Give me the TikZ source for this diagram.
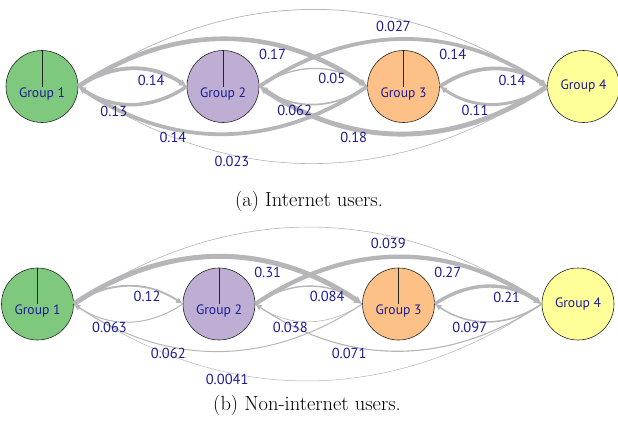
\documentclass[tikz,border=0pt]{standalone}
\usepackage{fontspec}
\newfontfamily\grpfont{PT Sans}
\usetikzlibrary{arrows.meta}

\definecolor{accgreen}{HTML}{7FC97F}
\definecolor{accpurple}{HTML}{BEAED4}
\definecolor{accorange}{HTML}{FDC086}
\definecolor{accyellow}{HTML}{FFFF99}
\definecolor{flowgray}{RGB}{182,182,184}
\definecolor{ratenavy}{RGB}{28,28,150}

\tikzset{
	group/.style={shape=circle, draw=black!85, line width=0.6pt, minimum size=72pt, inner sep=0pt},
	grptext/.style={text=ratenavy, inner sep=1pt, font=\grpfont\fontsize{13.6}{15}\selectfont},
	pieline/.style={draw=black!85, line width=0.8pt},
	flow/.style={draw=flowgray, line width=#1, bend left=34, -{Latex[length=6pt 0.4, width=5pt 0.7]}},
	rate/.style={pos=.67, below, inner sep=2pt, text=ratenavy, font=\grpfont\fontsize{14.5}{16}\selectfont},
	caption/.style={font=\fontsize{20.5}{24}\selectfont}
}

\begin{document}
\begin{tikzpicture}[x=1pt, y=-1pt]
				\useasboundingbox (0,0) rectangle (618,423);
				% (a) internet users
				\node[group, fill=accgreen] (A1) at (42,86.5) {};
				\node[group, fill=accpurple] (A2) at (223,86.5) {};
				\node[group, fill=accorange] (A3) at (403.5,86.5) {};
				\node[group, fill=accyellow, grptext] (A4) at (583.5,86.5) {Group 4};
				
				\path (A1.east) edge[flow=0.73pt] node[rate] {0.027} (A4.west);
				\path (A4.west) edge[flow=0.62pt] node[rate] {0.023} (A1.east);
				\path (A1.east) edge[flow=4.6pt] node[rate] {0.17} (A3.west);
				\path (A3.west) edge[flow=3.8pt] node[rate] {0.14} (A1.east);
				\path (A2.east) edge[flow=3.8pt] node[rate] {0.14} (A4.west);
				\path (A4.west) edge[flow=4.9pt] node[rate] {0.18} (A2.east);
				\path (A1.east) edge[flow=3.8pt] node[rate] {0.14} (A2.west);
				\path (A2.west) edge[flow=3.5pt] node[rate] {0.13} (A1.east);
				\path (A2.east) edge[flow=1.35pt] node[rate] {0.05} (A3.west);
				\path (A3.west) edge[flow=1.7pt] node[rate] {0.062} (A2.east);
				\path (A3.east) edge[flow=3.8pt] node[rate] {0.14} (A4.west);
				\path (A4.west) edge[flow=3.0pt] node[rate] {0.11} (A3.east);
				
				\foreach \g/\name in {A1/Group 1, A2/Group 2, A3/Group 3}{
					\draw[pieline] (\g.center) -- (\g.north);
					\node[grptext, below] (\g t) at (\g.center) {\name};
				}
				\node[caption] (capA) at (309,201) {(a) Internet users.};
				
				% (b) non-internet users
				\node[group, fill=accgreen] (B1) at (37.5,304) {};
				\node[group, fill=accpurple] (B2) at (219,304) {};
				\node[group, fill=accorange] (B3) at (398.5,304) {};
				\node[group, fill=accyellow, grptext] (B4) at (578,304) {Group 4};
				
				\path (B1.east) edge[flow=0.62pt] node[rate] {0.039} (B4.west);
				\path (B4.west) edge[flow=0.5pt] node[rate] {0.0041} (B1.east);
				\path (B1.east) edge[flow=5.0pt] node[rate] {0.31} (B3.west);
				\path (B3.west) edge[flow=1.0pt] node[rate] {0.062} (B1.east);
				\path (B2.east) edge[flow=4.3pt] node[rate] {0.27} (B4.west);
				\path (B4.west) edge[flow=1.14pt] node[rate] {0.071} (B2.east);
				\path (B1.east) edge[flow=1.9pt] node[rate] {0.12} (B2.west);
				\path (B2.west) edge[flow=1.0pt] node[rate] {0.063} (B1.east);
				\path (B2.east) edge[flow=1.35pt] node[rate] {0.084} (B3.west);
				\path (B3.west) edge[flow=0.6pt] node[rate] {0.038} (B2.east);
				\path (B3.east) edge[flow=3.4pt] node[rate] {0.21} (B4.west);
				\path (B4.west) edge[flow=1.55pt] node[rate] {0.097} (B3.east);
				
				\foreach \g/\name in {B1/Group 1, B2/Group 2, B3/Group 3}{
					\draw[pieline] (\g.center) -- (\g.north);
					\node[grptext, below] (\g t) at (\g.center) {\name};
				}
				\node[caption] (capB) at (307,405) {(b) Non-internet users.};
\end{tikzpicture}
\end{document}
